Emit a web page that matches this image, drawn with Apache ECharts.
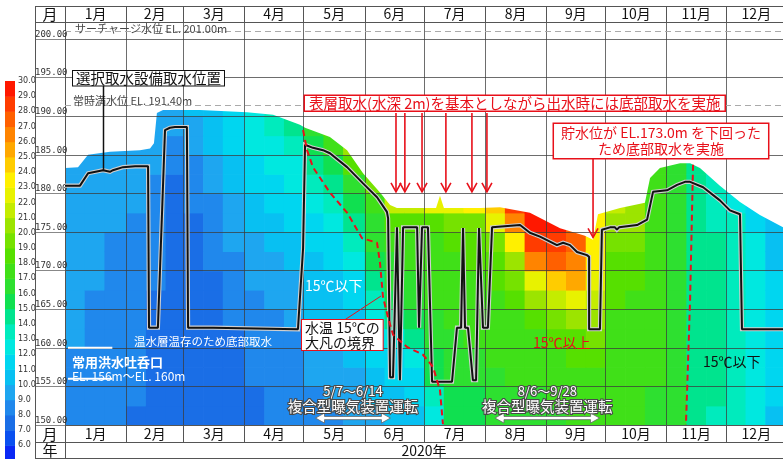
<!DOCTYPE html>
<html>
<head>
<meta charset="utf-8">
<script src="https://cdn.jsdelivr.net/npm/echarts@6.0.0/dist/echarts.min.js"></script>
<style>
html,body{margin:0;padding:0;background:#fff;}
#c{width:783px;height:459px;}
</style>
</head>
<body>
<div id="c"></div>
<script>
// ---- calendar (2020, leap year): day-of-year where each month starts ----
const monthStarts = [0, 31, 60, 91, 121, 152, 182, 213, 244, 274, 305, 335, 366];
const monthLabels = ['1月','2月','3月','4月','5月','6月','7月','8月','9月','10月','11月','12月'];
const yearLabel = '2020年';

// ---- temperature colour bands, 1 ℃ each, from 5 ℃ to 30 ℃ ----
const bandMin = 5;
const bandColors = [
  '#0a28f5','#0a50f0','#1a6ee6','#2088ec','#1ea6f0',
  '#08c0f2','#00d6f0','#00e8e0','#00ebbd','#00e48e',
  '#10e050','#2ee030','#40e018','#56e000','#76e200',
  '#9ce400','#c4ec00','#e8f200','#fff000','#ffcc00',
  '#ffa800','#ff8400','#ff6000','#ff3c00','#ff1800'
];
const scaleLabels = [6,7,8,9,10,11,12,13,14,15,16,17,18,19,20,21,22,23,24,25,26,27,28,29,30];

// ---- water temperature profiles (℃), bottom (EL.150m) upwards in 2.5 m steps ----
const rowBase = 150;
const rowStep = 2.5;
const colEdges = [0,10,20,31,41,51,60,70,80,91,101,111,121,131,141,152,162,172,182,192,202,213,223,233,244,254,264,274,284,294,305,315,325,335,345,355,366];
const tempColumns = [
  [8.6,8.7,8.8,8.9,9.1,9.3,9.4,9.5,9.5,9.6,9.6,9.6,9.7,9.8],
  [8.5,8.5,8.6,8.6,8.7,8.8,8.9,9.0,9.0,9.1,9.1,9.2,9.3,9.4,9.5],
  [8.3,8.3,8.4,8.4,8.5,8.6,8.7,8.8,8.8,8.9,9.0,9.1,9.2,9.3,9.4],
  [7.9,8.0,8.1,8.2,8.3,8.3,8.4,8.5,8.6,8.7,8.8,9.0,9.2,9.3,9.4],
  [7.3,7.4,7.6,7.7,7.8,7.8,7.9,8.0,8.1,8.2,8.3,8.5,8.7,9.0,9.3,9.6,9.8],
  [7.4,7.4,7.4,7.4,7.4,7.4,7.5,7.5,7.5,7.6,7.6,7.7,7.8,8.0,8.5,9.0,9.5],
  [7.5,7.5,7.5,7.5,7.5,7.5,7.6,7.6,7.7,7.7,7.8,8.0,8.3,8.7,9.2,9.6,10.0],
  [7.6,7.6,7.6,7.7,7.7,7.7,7.8,7.9,8.0,8.2,8.5,8.8,9.2,9.6,10.0,10.3,10.5],
  [7.7,7.7,7.8,7.8,7.9,8.0,8.2,8.4,8.7,9.0,9.4,9.8,10.2,10.6,11.0,11.3,11.5],
  [7.8,7.9,8.0,8.1,8.2,8.4,8.7,9.0,9.3,9.7,10.1,10.5,11.0,11.5,12.0,12.4,12.8],
  [8.0,8.1,8.2,8.3,8.5,8.8,9.1,9.4,9.8,10.2,10.6,11.0,11.5,12.0,12.6,13.2,13.8],
  [8.2,8.3,8.4,8.6,8.9,9.2,9.5,9.8,10.2,10.6,11.0,11.5,12.0,12.5,13.2,14.0,15.0],
  [8.6,8.8,9.0,9.3,9.6,10.0,10.3,10.6,10.9,11.3,11.8,12.5,13.4,14.3,15.3,16.8],
  [8.9,9.1,9.3,9.6,9.9,10.2,10.5,10.8,11.2,11.7,12.3,13.2,14.5,15.8,17.0,18.5],
  [9.3,9.5,9.8,10.1,10.4,10.7,11.1,11.6,12.2,13.0,14.0,15.3,16.8,18.5,20.0],
  [9.8,10.1,10.5,11.0,11.6,12.3,13.2,14.2,15.2,16.2,16.9,17.8,19.5,21.5],
  [10.2,10.6,11.0,11.5,12.5,14.3,15.8,16.4,16.9,17.4,18.2,21.0,23.0],
  [10.8,11.3,11.9,12.8,14.0,15.5,16.3,16.8,17.2,17.6,18.5,21.5,23.0],
  [12.5,13.8,15.0,15.8,16.3,16.8,17.1,17.4,17.6,17.9,18.8,22.0,23.5],
  [15.2,15.6,16.0,16.4,16.8,17.1,17.3,17.5,17.7,18.0,19.0,22.5,23.5],
  [15.6,15.9,16.2,16.6,17.0,17.3,17.5,17.7,18.0,18.5,19.8,23.0,24.5],
  [16.0,16.3,16.6,17.0,17.3,17.6,17.9,18.3,18.8,19.8,22.0,24.5,26.5],
  [16.3,16.6,17.0,17.3,17.6,17.9,18.4,19.2,20.5,23.0,26.0,28.0,28.5],
  [16.5,16.8,17.1,17.4,17.8,18.5,20.0,22.8,26.5,28.8,29.3,29.0],
  [16.7,17.0,17.3,17.7,18.2,19.2,21.0,24.0,27.0,28.7,29.0],
  [17.0,17.3,17.6,18.0,18.8,20.5,22.8,25.0,26.5,27.3,27.5],
  [17.2,17.5,17.9,18.5,19.5,20.6,21.8,22.6,23.1,23.4,23.3,22.5],
  [17.2,17.3,17.4,17.5,17.6,17.8,18.0,18.3,18.7,19.3,20.3,21.2],
  [17.1,17.2,17.3,17.4,17.5,17.7,17.9,18.2,18.6,19.1,20.0,20.8],
  [16.8,16.9,17.0,17.1,17.2,17.3,17.4,17.5,17.6,17.7,17.8,17.8,17.7,17.5],
  [16.2,16.3,16.4,16.5,16.6,16.7,16.8,16.9,16.9,16.9,16.9,16.8,16.7,16.5,16.3],
  [14.5,14.6,14.7,14.8,14.8,14.8,14.8,14.8,14.8,14.8,14.7,14.6,14.5,14.4,14.2],
  [13.9,14.0,14.1,14.1,14.1,14.1,14.1,14.1,14.0,14.0,13.9,13.8,13.7,13.5],
  [13.2,13.3,13.3,13.4,13.4,13.4,13.3,13.3,13.2,13.1,13.0,12.8,12.6],
  [12.3,12.4,12.5,12.5,12.5,12.4,12.3,12.2,12.1,12.0,11.8,11.6],
  [10.8,11.0,11.2,11.3,11.3,11.2,11.1,11.0,10.9,10.7,10.5]
];

// ---- reservoir water level [day, EL.m] ----
const surfaceLevel = [
  [0,183.3],[6.6,183.4],[11.7,185.0],[22.8,185.4],[38,185.6],[43.1,185.8],[45.1,186.5],
  [46.6,190.4],[49.7,190.8],[68.4,190.8],[92.3,190.5],[105.5,190.2],[119.1,188.9],
  [121.7,188.5],[134.3,187.3],[143,185.6],[151.1,182.6],[159.7,180.1],[164.8,178.5],
  [168.3,178.1],[188.1,178.1],[190.1,179.7],[192.1,178.1],[210.4,178.1],[220.5,178.2],
  [235.7,177.5],[251,175.5],[263.6,174.5],[267.7,174.0],[270.2,177.3],[281.4,178.1],
  [294,178.8],[296.6,182.0],[301.6,183.3],[311.8,183.9],[316.9,183.9],[321.9,183.3],
  [332,181.0],[342.2,178.9],[352.3,177.2],[364,175.6]
];

// ---- selective intake elevation [day, EL.m] ----
const intakeLevel = [
  [0,181.0],[7.6,181.0],[11.7,182.6],[19.3,183.0],[22.8,182.8],[24.3,183.0],[29.4,183.4],
  [35.5,183.5],[42.1,183.5],[42.6,162.6],[47.1,162.6],[50.7,188.2],[53.2,188.5],[55.8,188.6],
  [61.8,188.6],[62.4,162.6],[75,162.6],[75.5,162.4],[118.1,162.4],[120.7,172.9],[121.7,186.3],
  [125.7,185.9],[130.8,185.6],[134.3,185.2],[143,183.4],[151.1,181.3],[158.2,179.5],
  [163.2,177.6],[163.8,176.8],[164.8,156.2],[166.3,156.2],[168.3,175.6],[169.8,155.8],
  [171.4,175.6],[178.5,175.6],[179.5,162.6],[181,175.6],[184,175.6],[186.1,155.6],
  [196.2,155.6],[198.7,162.6],[200.8,162.6],[201.8,175.5],[202.8,162.6],[204.3,162.6],
  [206.8,155.8],[208.4,155.8],[209.9,175.5],[211.9,162.6],[214.4,162.6],[216.5,175.6],
  [230.7,175.9],[235.7,174.9],[240.8,174.4],[249.4,173.3],[252.5,173.6],[256,173.3],
  [259.6,172.4],[264.6,172.0],[265.7,171.8],[265.7,162.4],[271.2,162.4],[272.2,175.3],
  [276.3,175.6],[278.8,175.6],[279.8,175.3],[280.9,175.6],[290,175.9],[295.1,176.6],
  [298.1,180.2],[305.2,180.4],[310.3,181.1],[314.3,181.5],[316.9,181.5],[323.5,180.8],
  [332,179.1],[337.1,177.8],[342.2,177.3],[343.2,177.3],[343.2,162.4],[364,162.4]
];

// ---- approximate 15 ℃ isotherm (spring and autumn) [day, EL.m] ----
const isotherm15Spring = [
  [120.7,188.2],[122.7,185.6],[125.7,183.4],[134.3,180.1],[143,177.5],[150.6,174.2],
  [158.2,173.6],[159.7,171.0],[161.2,166.6],[163.8,163.9],[166.3,161.7],[173.4,160.1],
  [181.5,159.1],[186.6,157.5],[190.1,154.5],[191.6,150.1]
];
const isotherm15Autumn = [[318.4,183.7],[316.9,166.2],[314.8,150.0]];

// ---- intake operation markers: [day, arrow top EL, arrow tip EL] ----
const surfaceIntakeArrows = [[167.8,190.4,180.2],[172.3,190.4,180.2],[181,190.4,180.2],[193.1,190.4,180.2],[206.3,190.4,180.2],[213.9,190.4,180.2]];
const bottomIntakeArrows = [[267.7,184.6,174.3]];

// ---- aeration periods: [start day, end day, label] ----
const aerationPeriods = [[127,165,'5/7～6/14'],[218,271,'8/6～9/28']];
const aerationTitle = '複合型曝気装置運転';

// ---- reference levels ----
const surchargeLevel = 201.0;
const normalLevel = 191.4;
const spillwayLevels = [160, 156];
const spillwaySpan = [1.5, 24];

const FONT_JP = '"Noto Sans CJK JP", "Noto Sans", sans-serif';
const monthMids = monthStarts.slice(0, 12).map((s, i) => (s + monthStarts[i + 1]) / 2);

function bandColor(t) {
  let k = Math.floor(t - bandMin);
  if (k < 0) k = 0;
  if (k > bandColors.length - 1) k = bandColors.length - 1;
  return bandColors[k];
}

const heatCells = [];
tempColumns.forEach((col, i) => {
  col.forEach((t, j) => {
    heatCells.push([colEdges[i], colEdges[i + 1], rowBase + j * rowStep, rowBase + (j + 1) * rowStep, t]);
  });
});

const colorBands = bandColors.map((c, k) => [0, 1, bandMin + k, bandMin + k + 1]);

const gridLineStyle = { color: 'rgba(60,60,60,0.75)', width: 1 };

const chart = echarts.init(document.getElementById('c'), null, { renderer: 'canvas', width: 783, height: 459 });

const option = {
  animation: false,
  backgroundColor: '#fff',
  grid: [
    { left: 65, right: 0, top: 22, bottom: 34 },
    { left: 5, top: 81, width: 10, height: 378 }
  ],
  xAxis: [
    {
      type: 'value', gridIndex: 0, min: 0, max: 364, position: 'bottom', z: 3,
      axisLine: { show: true, lineStyle: { color: '#555', width: 1 } },
      axisTick: { show: true, customValues: monthStarts, length: 17, lineStyle: { color: '#555' } },
      axisLabel: {
        customValues: monthMids, margin: 2, fontSize: 14, color: '#111', fontFamily: FONT_JP,
        formatter: v => monthLabels[monthMids.indexOf(v)] || ''
      },
      splitLine: { show: true, lineStyle: gridLineStyle }
    },
    {
      type: 'value', gridIndex: 0, min: 0, max: 364, position: 'top', z: 3,
      axisLine: { show: true, lineStyle: { color: '#555', width: 1 } },
      axisTick: { show: true, customValues: monthStarts, length: 16, lineStyle: { color: '#555' } },
      axisLabel: {
        customValues: monthMids, margin: 1, fontSize: 14, color: '#111', fontFamily: FONT_JP,
        formatter: v => monthLabels[monthMids.indexOf(v)] || ''
      },
      splitLine: { show: false }
    },
    { type: 'value', gridIndex: 1, min: 0, max: 1, show: false }
  ],
  yAxis: [
    {
      type: 'value', gridIndex: 0, min: 150, max: 202.2, interval: 5, z: 3,
      axisLine: { show: true, lineStyle: { color: '#555', width: 1 } },
      axisTick: { show: true, length: 30, lineStyle: { color: '#888' } },
      axisLabel: {
        formatter: v => (Math.abs(v % 5) < 1e-6 ? v.toFixed(2) : ''),
        align: 'left', verticalAlign: 'bottom', margin: 30,
        fontSize: 9, color: '#333', fontFamily: '"DejaVu Sans Mono", monospace'
      },
      splitLine: { show: true, lineStyle: gridLineStyle }
    },
    {
      type: 'value', gridIndex: 1, min: 5.1, max: 30, position: 'right',
      axisLine: { show: false }, axisTick: { show: false }, splitLine: { show: false },
      axisLabel: { customValues: scaleLabels, formatter: v => v.toFixed(1), fontSize: 8, margin: 3, color: '#333', fontFamily: '"DejaVu Sans", sans-serif' }
    }
  ],
  series: [
    {
      // temperature field
      type: 'custom', xAxisIndex: 0, yAxisIndex: 0, z: 1, clip: true, silent: true,
      data: heatCells,
      encode: { x: [0, 1], y: [2, 3] },
      renderItem: (params, api) => {
        const p0 = api.coord([api.value(0), api.value(3)]);
        const p1 = api.coord([api.value(1), api.value(2)]);
        return {
          type: 'rect',
          shape: { x: p0[0], y: p0[1], width: p1[0] - p0[0] + 0.7, height: p1[1] - p0[1] + 0.7 },
          style: { fill: bandColor(api.value(4)) }
        };
      }
    },
    {
      // everything above the water surface is left blank
      type: 'line', xAxisIndex: 0, yAxisIndex: 0, z: 2, silent: true,
      data: surfaceLevel, symbol: 'none',
      lineStyle: { width: 0 },
      areaStyle: { color: '#fff', opacity: 1, origin: 'end' }
    },
    {
      // reference water levels
      type: 'line', xAxisIndex: 0, yAxisIndex: 0, z: 2.5, silent: true, data: [],
      markLine: {
        silent: true, symbol: 'none', animation: false,
        lineStyle: { color: '#aaa', type: [6, 4], width: 1 },
        label: { show: false },
        data: [{ yAxis: surchargeLevel }, { yAxis: normalLevel }]
      }
    },
    {
      type: 'line', xAxisIndex: 0, yAxisIndex: 0, z: 4, silent: true,
      data: intakeLevel, symbol: 'none',
      lineStyle: { color: '#cfcfcf', width: 4.2, join: 'miter' }
    },
    {
      type: 'line', xAxisIndex: 0, yAxisIndex: 0, z: 5, silent: true,
      data: intakeLevel, symbol: 'none',
      lineStyle: { color: '#111', width: 2 }
    },
    {
      type: 'line', xAxisIndex: 0, yAxisIndex: 0, z: 5, silent: true,
      data: isotherm15Spring, symbol: 'none',
      lineStyle: { color: '#e8101a', width: 2, type: [6, 4] }
    },
    {
      type: 'line', xAxisIndex: 0, yAxisIndex: 0, z: 5, silent: true,
      data: isotherm15Autumn, symbol: 'none',
      lineStyle: { color: '#e8101a', width: 2, type: [6, 4] }
    },
    {
      // intake operation arrows
      type: 'custom', xAxisIndex: 0, yAxisIndex: 0, z: 6, silent: true,
      data: surfaceIntakeArrows.concat(bottomIntakeArrows),
      encode: { x: 0, y: [1, 2] },
      renderItem: (params, api) => {
        const a = api.coord([api.value(0), api.value(1)]);
        const b = api.coord([api.value(0), api.value(2)]);
        const st = { stroke: '#e8101a', lineWidth: 1.6, fill: null };
        return {
          type: 'group',
          children: [
            { type: 'line', shape: { x1: a[0], y1: a[1], x2: b[0], y2: b[1] }, style: st },
            { type: 'polyline', shape: { points: [[b[0] - 5, b[1] - 9], [b[0], b[1]], [b[0] + 5, b[1] - 9]] }, style: st }
          ]
        };
      }
    },
    {
      // spillway intake range marks
      type: 'custom', xAxisIndex: 0, yAxisIndex: 0, z: 6, silent: true,
      data: spillwayLevels.map(e => [spillwaySpan[0], spillwaySpan[1], e]),
      encode: { x: [0, 1], y: 2 },
      renderItem: (params, api) => {
        const a = api.coord([api.value(0), api.value(2)]);
        const b = api.coord([api.value(1), api.value(2)]);
        return { type: 'line', shape: { x1: a[0], y1: a[1], x2: b[0], y2: b[1] }, style: { stroke: '#fff', lineWidth: 2 } };
      }
    },
    {
      // aeration operating periods
      type: 'custom', xAxisIndex: 0, yAxisIndex: 0, z: 6, silent: true,
      data: aerationPeriods.map(p => [p[0], p[1]]),
      encode: { x: [0, 1] },
      renderItem: (params, api) => {
        const p = aerationPeriods[params.dataIndex];
        const y = api.coord([p[0], 150.9])[1];
        const ax = api.coord([p[0], 150.9])[0];
        const bx = api.coord([p[1], 150.9])[0];
        const mid = (p[0] + p[1]) / 2;
        const t1 = api.coord([mid, 154.4]);
        const t2 = api.coord([mid, 152.4]);
        const h = 9, w = 5, s = 1.6;
        const pts = [[ax, y], [ax + h, y - w], [ax + h, y - s], [bx - h, y - s], [bx - h, y - w], [bx, y],
                     [bx - h, y + w], [bx - h, y + s], [ax + h, y + s], [ax + h, y + w]];
        const txt = (x, yy, text, size) => ({
          type: 'text', x: x, y: yy,
          style: { text: text, fill: '#fff', stroke: '#4a4a4a', lineWidth: 2.2, font: size + 'px ' + FONT_JP, align: 'center', verticalAlign: 'middle' }
        });
        return {
          type: 'group',
          children: [
            { type: 'polygon', shape: { points: pts }, style: { fill: '#fff', stroke: '#666', lineWidth: 0.8 } },
            txt(t1[0], t1[1], p[2], 13),
            txt(t2[0], t2[1], aerationTitle, 14.5)
          ]
        };
      }
    },
    {
      // colour scale bar
      type: 'custom', xAxisIndex: 2, yAxisIndex: 1, silent: true, clip: true,
      data: colorBands,
      encode: { x: [0, 1], y: [2, 3] },
      renderItem: (params, api) => {
        const p0 = api.coord([api.value(0), api.value(3)]);
        const p1 = api.coord([api.value(1), api.value(2)]);
        return {
          type: 'rect',
          shape: { x: p0[0], y: p0[1], width: p1[0] - p0[0], height: p1[1] - p0[1] + 0.5 },
          style: { fill: bandColors[params.dataIndex] }
        };
      }
    }
  ],
  graphic: [
    // table frame around the month / year rows
    { type: 'line', z: 50, shape: { x1: 35, y1: 6.5, x2: 783, y2: 6.5 }, style: { stroke: '#555', lineWidth: 1 } },
    { type: 'line', z: 50, shape: { x1: 35.5, y1: 6, x2: 35.5, y2: 458 }, style: { stroke: '#555', lineWidth: 1 } },
    { type: 'line', z: 50, shape: { x1: 35, y1: 22.5, x2: 65, y2: 22.5 }, style: { stroke: '#555', lineWidth: 1 } },
    { type: 'line', z: 50, shape: { x1: 35, y1: 442.5, x2: 783, y2: 442.5 }, style: { stroke: '#555', lineWidth: 1 } },
    { type: 'line', z: 50, shape: { x1: 35, y1: 458.5, x2: 783, y2: 458.5 }, style: { stroke: '#555', lineWidth: 1 } },
    { type: 'line', z: 50, shape: { x1: 65.5, y1: 442, x2: 65.5, y2: 458 }, style: { stroke: '#555', lineWidth: 1 } },
    { type: 'text', z: 50, x: 50, y: 14.5, style: { text: '月', font: '15px ' + FONT_JP, fill: '#111', align: 'center', verticalAlign: 'middle' } },
    { type: 'text', z: 50, x: 50, y: 434, style: { text: '月', font: '15px ' + FONT_JP, fill: '#111', align: 'center', verticalAlign: 'middle' } },
    { type: 'text', z: 50, x: 50, y: 450.5, style: { text: '年', font: '15px ' + FONT_JP, fill: '#111', align: 'center', verticalAlign: 'middle' } },
    { type: 'text', z: 50, x: 424, y: 450.5, style: { text: yearLabel, font: '14px ' + FONT_JP, fill: '#111', align: 'center', verticalAlign: 'middle' } },

    // level captions
    { type: 'text', z: 50, x: 75, y: 28.5, style: { text: 'サーチャージ水位 EL. 201.00m', font: '11px ' + FONT_JP, fill: '#444', verticalAlign: 'middle' } },
    { type: 'text', z: 50, x: 73, y: 101, style: { text: '常時満水位 EL. 191.40m', font: '11px ' + FONT_JP, fill: '#444', verticalAlign: 'middle' } },

    // intake position caption
    { type: 'line', z: 50, shape: { x1: 103.5, y1: 86, x2: 103.5, y2: 170 }, style: { stroke: '#111', lineWidth: 1.5 } },
    { type: 'text', z: 51, x: 73, y: 71, style: { text: '選択取水設備取水位置', font: '14.5px ' + FONT_JP, fill: '#111', backgroundColor: '#fff', borderColor: '#111', borderWidth: 1, padding: [0, 3, 0, 3] } },

    // operation notes
    { type: 'text', z: 51, x: 305, y: 96, style: { text: '表層取水(水深 2m)を基本としながら出水時には底部取水を実施', font: '14.5px ' + FONT_JP, fill: '#e8101a', backgroundColor: '#fff', borderColor: '#e8101a', borderWidth: 1.5, padding: [0, 4, 0, 4] } },
    { type: 'text', z: 51, x: 661, y: 124, style: { text: '貯水位が EL.173.0m を下回った\nため底部取水を実施', font: '14px ' + FONT_JP, lineHeight: 16, fill: '#e8101a', align: 'center', backgroundColor: '#fff', borderColor: '#e8101a', borderWidth: 1.5, padding: [1, 7, 1, 7] } },

    // field annotations
    { type: 'text', z: 50, x: 203, y: 342, style: { text: '温水層温存のため底部取水', font: '11.5px ' + FONT_JP, fill: '#fff', align: 'center', verticalAlign: 'middle' } },
    { type: 'text', z: 50, x: 72, y: 362, style: { text: '常用洪水吐呑口', font: 'bold 13px ' + FONT_JP, fill: '#fff', verticalAlign: 'middle' } },
    { type: 'text', z: 50, x: 72, y: 376, style: { text: 'EL. 156m～EL. 160m', font: '12px ' + FONT_JP, fill: '#fff', verticalAlign: 'middle' } },
    { type: 'text', z: 50, x: 305, y: 286, style: { text: '15℃以下', font: '14px ' + FONT_JP, fill: '#fff', verticalAlign: 'middle' } },
    { type: 'line', z: 50, shape: { x1: 343, y1: 321, x2: 381, y2: 296 }, style: { stroke: '#e8101a', lineWidth: 1 } },
    { type: 'text', z: 51, x: 302, y: 320, style: { text: '水温 15℃の\n大凡の境界', font: '14px ' + FONT_JP, lineHeight: 15, fill: '#111', backgroundColor: '#fff', borderColor: '#e8101a', borderWidth: 1, padding: [0, 3, 0, 3] } },
    { type: 'text', z: 50, x: 533, y: 343, style: { text: '15℃以上', font: '14px ' + FONT_JP, fill: '#e8101a', verticalAlign: 'middle' } },
    { type: 'text', z: 50, x: 703, y: 362, style: { text: '15℃以下', font: '14px ' + FONT_JP, fill: '#111', verticalAlign: 'middle' } }
  ]
};

chart.setOption(option);
</script>
</body>
</html>
